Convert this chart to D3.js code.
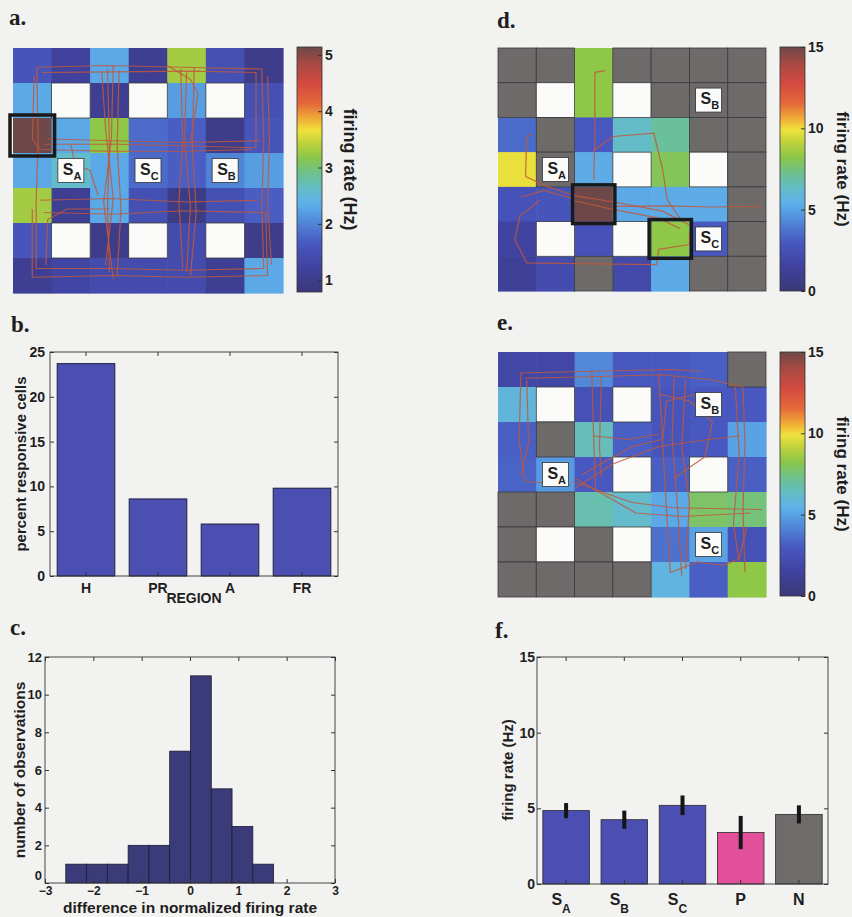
<!DOCTYPE html>
<html>
<head>
<meta charset="utf-8">
<script src="https://cdn.jsdelivr.net/npm/d3@7"></script>
<style>
body { margin: 0; background: #f2f2f0; }
svg { display: block; }
text { font-family: "Liberation Sans", Arial, sans-serif; font-weight: bold; fill: #1e1e1e; }
.letter { font-family: "Liberation Serif", "Times New Roman", serif; font-size: 23px; }
.axis text { font-size: 13px; }
.axis line, .axis path { stroke: #333; }
</style>
</head>
<body>
<div id="top"></div>
<script>
// panel b
var regions = ['H', 'PR', 'A', 'FR'];
var percentResponsive = [23.7, 8.6, 5.8, 9.8];

// panel c
var histEdges = [-2.57, -2.14, -1.71, -1.28, -0.85, -0.42, 0.01, 0.44, 0.87, 1.30, 1.73];
var histCounts = [1, 1, 1, 2, 2, 7, 11, 5, 3, 1];

// panel f
var fieldNames = ['S', 'S', 'S', 'P', 'N'];
var fieldSubs = ['A', 'B', 'C', '', ''];
var fieldRates = [4.85, 4.25, 5.2, 3.4, 4.6];
var fieldErrs = [0.5, 0.6, 0.65, 1.1, 0.6];
var fieldColors = ['#4b4fb2', '#4b4fb2', '#4b4fb2', '#e2509c', '#6f6b6b'];

// rate maps, 'W' = wall, 'G' = not visited
var rateA = [
  [1.6, 1.2, 2.3, 1.1, 3.3, 1.5, 1.0],
  [2.3, 'W', 1.1, 'W', 2.2, 'W', 1.5],
  [5.14, 2.3, 3.2, 1.8, 1.7, 1.0, 1.6],
  [2.3, 2.6, 2.3, 1.8, 1.7, 2.0, 2.2],
  [3.3, 1.1, 2.3, 1.5, 0.95, 1.5, 1.7],
  [1.6, 'W', 1.0, 'W', 1.4, 'W', 1.0],
  [1.1, 1.3, 1.4, 1.4, 1.4, 1.1, 2.3]
];
var rateD = [
  ['G', 'G', 8.3, 'G', 'G', 'G', 'G'],
  ['G', 'W', 8.3, 'W', 'G', 'G', 'G'],
  [3.5, 'G', 3.0, 6.3, 7.0, 'G', 'G'],
  [9.8, 'G', 5.3, 'W', 8.0, 'W', 'G'],
  [2.6, 2.8, 15, 5.2, 5.3, 5.3, 'G'],
  [1.6, 'W', 2.6, 'W', 8.3, 3.0, 'G'],
  [1.3, 2.2, 'G', 2.0, 5.2, 'G', 'G']
];
var rateE = [
  [1.8, 1.8, 4.3, 3.0, 3.0, 3.2, 'G'],
  [5.8, 'W', 2.5, 'W', 2.8, 3.0, 3.0],
  [3.2, 'G', 6.5, 3.2, 2.8, 3.0, 5.0],
  [3.3, 4.8, 3.0, 'W', 3.2, 'W', 3.2],
  ['G', 'G', 6.7, 6.2, 5.2, 7.8, 7.5],
  ['G', 'W', 'G', 'W', 3.7, 5.0, 2.6],
  ['G', 'G', 'G', 'G', 5.7, 3.2, 8.3]
];

// [name, row, col]
var labelsA = [['A', 3, 1], ['C', 3, 3], ['B', 3, 5]];
var labelsD = [['B', 1, 5], ['A', 3, 1], ['C', 5, 5]];
var labelsE = [['B', 1, 5], ['A', 3, 1], ['C', 5, 5]];

// [row, col]
var marksA = [[2, 0]];
var marksD = [[4, 2], [5, 4]];

// paths of the rat, in maze cell units [col, row]
var pathsA = [
  [[0.62, 0.55], [2.4, 0.5], [4.4, 0.55], [6.45, 0.6], [6.5, 2.7], [6.45, 4.5], [6.5, 6.3], [4.5, 6.35], [2.5, 6.3], [0.6, 6.3], [0.6, 4.4], [0.65, 2.7], [0.62, 0.55]],
  [[0.75, 0.7], [2.6, 0.68], [4.6, 0.66], [6.3, 0.7], [6.3, 2.85], [4.6, 2.8], [2.7, 2.75], [0.8, 2.75]],
  [[2.45, 0.6], [2.5, 2.7], [2.45, 4.5], [2.5, 6.4]],
  [[2.75, 0.65], [2.7, 2.8], [2.8, 4.6], [2.7, 6.5]],
  [[2.3, 0.7], [2.4, 2.3], [2.6, 4.3], [2.4, 6.2]],
  [[2.6, 0.5], [2.55, 2.6], [2.35, 4.4], [2.6, 6.6]],
  [[4.35, 0.6], [4.4, 2.7], [4.3, 4.4], [4.4, 6.3]],
  [[4.7, 0.55], [4.65, 2.85], [4.75, 4.7], [4.6, 6.5]],
  [[4.5, 0.7], [4.45, 2.6], [4.6, 4.55], [4.5, 6.4]],
  [[0.7, 4.35], [2.5, 4.3], [4.5, 4.4], [6.35, 4.35]],
  [[0.8, 4.7], [2.6, 4.75], [4.4, 4.65], [6.55, 4.7], [6.6, 6.5], [4.5, 6.55], [2.6, 6.5], [0.5, 6.55], [0.5, 4.6]],
  [[0.55, 0.8], [0.5, 2.6], [0.7, 2.9], [2.5, 2.95], [4.5, 2.95], [6.2, 2.9]],
  [[0.9, 2.6], [2.6, 2.65], [4.4, 2.7], [6.4, 2.65]],
  [[4.0, 0.5], [4.6, 0.9], [4.8, 1.3], [4.6, 2.7]],
  [[1.5, 2.75], [1.6, 3.3], [2.0, 3.5], [2.2, 4.2]],
  [[0.85, 6.2], [0.9, 4.9], [1.4, 4.6], [2.5, 4.6]],
  [[6.6, 0.8], [6.65, 2.6], [6.6, 4.4], [6.7, 6.2]]
];
var pathsD = [
  [[2.8, 0.65], [2.53, 0.7], [2.53, 2.5], [2.5, 3.8]],
  [[0.9, 2.5], [0.75, 2.55], [0.72, 3.7], [1.3, 4.0], [2.0, 4.25], [3.1, 4.45], [4.3, 4.7], [5.0, 5.1]],
  [[2.5, 2.95], [3.0, 2.55], [4.07, 2.45], [4.3, 3.5], [4.42, 4.37], [4.77, 4.94]],
  [[3.05, 4.56], [4.5, 4.55], [5.5, 4.58], [6.9, 4.56]],
  [[1.1, 4.37], [0.57, 4.85], [0.44, 5.52], [0.75, 6.19], [2.5, 6.22], [4.14, 6.24], [4.2, 5.8], [5.0, 5.66], [5.0, 5.33]],
  [[2.0, 4.4], [3.0, 4.65], [4.2, 4.9], [4.75, 5.2]],
  [[0.6, 4.3], [1.2, 4.1], [2.0, 4.35]]
];
var pathsE = [
  [[0.55, 0.6], [2.5, 0.55], [4.5, 0.5], [5.3, 0.55]],
  [[0.7, 0.75], [2.6, 0.7], [4.3, 0.65], [5.6, 0.8], [6.4, 1.0], [6.45, 2.6], [6.4, 4.5], [6.45, 6.3]],
  [[0.6, 0.6], [0.55, 2.5], [0.7, 3.7], [1.9, 3.8]],
  [[0.75, 0.8], [0.8, 2.6], [0.6, 3.5]],
  [[2.45, 0.55], [2.5, 2.5], [2.55, 4.0]],
  [[2.7, 0.7], [2.65, 2.7], [2.7, 3.6]],
  [[4.2, 0.6], [4.3, 2.6], [4.4, 4.5], [4.5, 6.3]],
  [[4.6, 0.7], [4.55, 2.5], [4.7, 4.6], [4.8, 6.4]],
  [[4.9, 0.8], [4.8, 2.7], [5.0, 4.3], [4.9, 6.2]],
  [[1.95, 3.7], [3.5, 4.3], [4.6, 4.45], [6.9, 4.5]],
  [[2.0, 3.6], [3.6, 4.6], [4.8, 4.7], [6.6, 4.6]],
  [[2.0, 3.9], [3.0, 3.2], [4.2, 2.7], [5.5, 2.5], [6.3, 2.4]],
  [[2.2, 3.5], [3.5, 2.7], [4.3, 2.5], [4.4, 1.4], [5.2, 1.2]],
  [[4.2, 1.2], [5.0, 1.4], [5.6, 2.0], [5.4, 3.0], [4.6, 3.6]],
  [[4.5, 6.3], [5.2, 6.0], [5.9, 6.1], [6.3, 5.9], [6.5, 5.0]],
  [[6.2, 1.0], [6.3, 2.9], [6.15, 4.9], [6.3, 6.0]],
  [[2.5, 2.4], [3.4, 2.5], [4.2, 2.35]]
];

// printed jet colormap
var cmapPos = [0, 0.1, 0.2, 0.3, 0.36, 0.42, 0.48, 0.55, 0.61, 0.66, 0.71, 0.77, 0.85, 0.93, 1];
var cmapColors = ['#3a3878', '#40429e', '#4858c0', '#5290dc', '#5eb0ea', '#64bcc8', '#6cc090', '#8cc648',
  '#c0d23c', '#f0e23c', '#f0a836', '#e4683a', '#d44a40', '#a84a42', '#6e4848'];

var intFmt = d3.format('d');

var svg = d3.select('#top').append('svg').attr('width', 852).attr('height', 917);
var defs = svg.append('defs');

var grad = defs.append('linearGradient').attr('id', 'jet')
  .attr('x1', 0).attr('y1', 1).attr('x2', 0).attr('y2', 0);
cmapPos.forEach(function(p, i) {
  grad.append('stop').attr('offset', p).attr('stop-color', cmapColors[i]);
});

function colorScale(lo, hi) {
  return d3.scaleLinear()
    .domain(cmapPos.map(function(t) { return lo + t * (hi - lo); }))
    .range(cmapColors)
    .clamp(true);
}

function letter(t, x, y) {
  svg.append('text').attr('class', 'letter').attr('x', x).attr('y', y).text(t);
}

function drawMap(o) {
  var g = svg.append('g');
  var x = d3.scaleBand().domain(d3.range(7)).range(o.xr);
  var y = d3.scaleBand().domain(d3.range(7)).range(o.yr);
  var gx = d3.scaleLinear().domain([0, 7]).range(o.xr);
  var gy = d3.scaleLinear().domain([0, 7]).range(o.yr);
  var color = colorScale(o.lo, o.hi);

  var cells = [];
  o.rates.forEach(function(row, r) {
    row.forEach(function(v, c) { cells.push({ r: r, c: c, v: v }); });
  });
  var colored = cells.filter(function(d) { return typeof d.v === 'number'; });
  var other = cells.filter(function(d) { return typeof d.v !== 'number'; });

  g.selectAll('rect.hot').data(colored).enter().append('rect')
    .attr('x', function(d) { return x(d.c); })
    .attr('y', function(d) { return y(d.r); })
    .attr('width', x.bandwidth() + 0.6)
    .attr('height', y.bandwidth() + 0.6)
    .attr('fill', function(d) { return color(d.v); });

  g.selectAll('rect.off').data(other).enter().append('rect')
    .attr('x', function(d) { return x(d.c); })
    .attr('y', function(d) { return y(d.r); })
    .attr('width', x.bandwidth())
    .attr('height', y.bandwidth())
    .attr('fill', function(d) { return d.v === 'W' ? '#fbfbfa' : '#6d6a69'; })
    .attr('stroke', '#3a3a3a')
    .attr('stroke-width', 0.8);

  defs.append('clipPath').attr('id', o.id).append('rect')
    .attr('x', o.xr[0]).attr('y', o.yr[0])
    .attr('width', o.xr[1] - o.xr[0]).attr('height', o.yr[1] - o.yr[0]);

  var line = d3.line().x(function(d) { return gx(d[0]); }).y(function(d) { return gy(d[1]); });
  g.append('g').attr('clip-path', 'url(#' + o.id + ')')
    .selectAll('path').data(o.paths).enter().append('path')
    .attr('d', line)
    .attr('fill', 'none')
    .attr('stroke', '#c0583c')
    .attr('stroke-width', 1.2)
    .attr('stroke-opacity', 0.85)
    .attr('stroke-linejoin', 'round');

  g.selectAll('rect.mark').data(o.marks).enter().append('rect')
    .attr('x', function(d) { return x(d[1]) - o.pad; })
    .attr('y', function(d) { return y(d[0]) - o.pad; })
    .attr('width', x.bandwidth() + 2 * o.pad)
    .attr('height', y.bandwidth() + 2 * o.pad)
    .attr('fill', 'none')
    .attr('stroke', '#1a1a1a')
    .attr('stroke-width', 3.5);

  var lab = g.selectAll('g.lab').data(o.labels).enter().append('g')
    .attr('transform', function(d) {
      return 'translate(' + (x(d[2]) + x.bandwidth() / 2) + ',' + (y(d[1]) + y.bandwidth() / 2) + ')';
    });
  lab.append('rect').attr('x', -13).attr('y', -12).attr('width', 26).attr('height', 24)
    .attr('fill', '#fbfbfa').attr('stroke', '#333').attr('stroke-width', 0.8);
  var t = lab.append('text').attr('x', -8).attr('y', 4).style('font-size', '16px');
  t.append('tspan').text('S');
  t.append('tspan').attr('dy', 5).style('font-size', '11px').text(function(d) { return d[0]; });
}

function drawBar(o) {
  var s = d3.scaleLinear().domain([o.lo, o.hi]).range([o.yr[1], o.yr[0]]);
  svg.append('rect').attr('x', o.xr[0]).attr('y', o.yr[0])
    .attr('width', o.xr[1] - o.xr[0]).attr('height', o.yr[1] - o.yr[0])
    .attr('fill', 'url(#jet)').attr('stroke', '#333').attr('stroke-width', 0.8);
  var ax = svg.append('g').attr('class', 'axis')
    .attr('transform', 'translate(' + o.xr[1] + ',0)')
    .call(d3.axisRight(s).tickValues(o.ticks).tickFormat(intFmt).tickSize(-4).tickPadding(3));
  ax.select('.domain').remove();
  ax.selectAll('text').style('font-size', '14px');
  svg.append('text')
    .attr('transform', 'translate(' + o.labelX + ',' + ((o.yr[0] + o.yr[1]) / 2) + ') rotate(90)')
    .attr('text-anchor', 'middle').attr('dy', '0.35em')
    .style('font-size', o.labelSize + 'px')
    .text('firing rate (Hz)');
}

function frame(xr, yr) {
  svg.append('rect').attr('x', xr[0]).attr('y', yr[0])
    .attr('width', xr[1] - xr[0]).attr('height', yr[1] - yr[0])
    .attr('fill', 'none').attr('stroke', '#333').attr('stroke-width', 0.9);
}

function yLabel(t, x, y, size) {
  svg.append('text').attr('transform', 'translate(' + x + ',' + y + ') rotate(-90)')
    .attr('text-anchor', 'middle').attr('dy', '0.35em')
    .style('font-size', size + 'px').text(t);
}

function mirrorTicks(xAxis, yAxis, xr, yr) {
  svg.append('g').attr('transform', 'translate(0,' + yr[0] + ')')
    .call(xAxis.tickSize(4).tickFormat('')).select('.domain').remove();
  svg.append('g').attr('transform', 'translate(' + xr[1] + ',0)')
    .call(yAxis.tickSize(4).tickFormat('')).select('.domain').remove();
  svg.selectAll('g line').attr('stroke', '#333');
}

// ---------- a ----------
letter('a.', 9, 25);
drawMap({ id: 'clipA', rates: rateA, lo: 0.79, hi: 5.14, xr: [13, 283], yr: [48, 293],
  paths: pathsA, labels: labelsA, marks: marksA, pad: 3 });
drawBar({ xr: [297, 322], yr: [47, 292], lo: 0.79, hi: 5.14, ticks: [1, 2, 3, 4, 5], labelX: 350, labelSize: 18 });

// ---------- d ----------
letter('d.', 497, 28);
drawMap({ id: 'clipD', rates: rateD, lo: 0, hi: 15, xr: [498, 766], yr: [48, 291],
  paths: pathsD, labels: labelsD, marks: marksD, pad: 2 });
drawBar({ xr: [780, 805], yr: [47, 291], lo: 0, hi: 15, ticks: [0, 5, 10, 15], labelX: 843, labelSize: 17 });

// ---------- e ----------
letter('e.', 497, 330);
drawMap({ id: 'clipE', rates: rateE, lo: 0, hi: 15, xr: [498, 766], yr: [352, 597],
  paths: pathsE, labels: labelsE, marks: [], pad: 2 });
drawBar({ xr: [780, 805], yr: [352, 596], lo: 0, hi: 15, ticks: [0, 5, 10, 15], labelX: 843, labelSize: 17 });

// ---------- b ----------
(function() {
  letter('b.', 11, 332);
  var xr = [50, 338], yr = [352, 576];
  var x = d3.scaleBand().domain(regions).range(xr).paddingInner(0.2).paddingOuter(0.1);
  var y = d3.scaleLinear().domain([0, 25]).range([yr[1], yr[0]]);
  svg.selectAll('rect.regbar').data(regions).enter().append('rect')
    .attr('x', function(d) { return x(d); })
    .attr('y', function(d, i) { return y(percentResponsive[i]); })
    .attr('width', x.bandwidth())
    .attr('height', function(d, i) { return yr[1] - y(percentResponsive[i]); })
    .attr('fill', '#4b4fb2').attr('stroke', '#1e1e3c').attr('stroke-width', 1);
  frame(xr, yr);
  var ya = svg.append('g').attr('class', 'axis').attr('transform', 'translate(' + xr[0] + ',0)')
    .call(d3.axisLeft(y).tickValues([0, 5, 10, 15, 20, 25]).tickFormat(intFmt).tickSize(-4).tickPadding(5));
  ya.select('.domain').remove();
  ya.selectAll('text').style('font-size', '14px');
  var xa = svg.append('g').attr('class', 'axis').attr('transform', 'translate(0,' + yr[1] + ')')
    .call(d3.axisBottom(x).tickSize(-4).tickPadding(7));
  xa.select('.domain').remove();
  xa.selectAll('text').style('font-size', '14px');
  mirrorTicks(d3.axisBottom(x), d3.axisLeft(y).tickValues([0, 5, 10, 15, 20, 25]), xr, yr);
  yLabel('percent responsive cells', 21, 464, 15);
  svg.append('text').attr('x', 194).attr('y', 603).attr('text-anchor', 'middle')
    .style('font-size', '14px').text('REGION');
})();

// ---------- c ----------
(function() {
  letter('c.', 10, 635);
  var xr = [45, 335], yr = [657, 883];
  var x = d3.scaleLinear().domain([-3, 3]).range(xr);
  var y = d3.scaleLinear().domain([0, 12]).range([yr[1], yr[0]]);
  svg.selectAll('rect.hist').data(histCounts).enter().append('rect')
    .attr('x', function(d, i) { return x(histEdges[i]); })
    .attr('y', function(d) { return y(d); })
    .attr('width', function(d, i) { return x(histEdges[i + 1]) - x(histEdges[i]); })
    .attr('height', function(d) { return yr[1] - y(d); })
    .attr('fill', '#3b3b7a').attr('stroke', '#1c1c30').attr('stroke-width', 0.8);
  frame(xr, yr);
  var ya = svg.append('g').attr('class', 'axis').attr('transform', 'translate(' + xr[0] + ',0)')
    .call(d3.axisLeft(y).tickValues(d3.range(0, 13, 2)).tickFormat(intFmt).tickSize(-4).tickPadding(3));
  ya.select('.domain').remove();
  ya.selectAll('text').filter(function(d) { return d === 0; }).attr('dy', '-0.3em');
  var xa = svg.append('g').attr('class', 'axis').attr('transform', 'translate(0,' + yr[1] + ')')
    .call(d3.axisBottom(x).tickValues(d3.range(-3, 4)).tickFormat(intFmt).tickSize(-4).tickPadding(3));
  xa.select('.domain').remove();
  xa.selectAll('text').style('font-size', '12px');
  mirrorTicks(d3.axisBottom(x).tickValues(d3.range(-3, 4)), d3.axisLeft(y).tickValues(d3.range(0, 13, 2)), xr, yr);
  yLabel('number of observations', 20, 770, 15.5);
  svg.append('text').attr('x', 190).attr('y', 913).attr('text-anchor', 'middle')
    .style('font-size', '15.5px').text('difference in normalized firing rate');
})();

// ---------- f ----------
(function() {
  letter('f.', 495, 638);
  var xr = [537, 828], yr = [657, 884];
  var idx = d3.range(fieldRates.length);
  var x = d3.scaleBand().domain(idx).range(xr).paddingInner(0.2).paddingOuter(0.1);
  var y = d3.scaleLinear().domain([0, 15]).range([yr[1], yr[0]]);
  svg.selectAll('rect.field').data(idx).enter().append('rect')
    .attr('x', function(i) { return x(i); })
    .attr('y', function(i) { return y(fieldRates[i]); })
    .attr('width', x.bandwidth())
    .attr('height', function(i) { return yr[1] - y(fieldRates[i]); })
    .attr('fill', function(i) { return fieldColors[i]; })
    .attr('stroke', '#2a2a2a').attr('stroke-width', 0.8);
  svg.selectAll('line.err').data(idx).enter().append('line')
    .attr('x1', function(i) { return x(i) + x.bandwidth() / 2; })
    .attr('x2', function(i) { return x(i) + x.bandwidth() / 2; })
    .attr('y1', function(i) { return y(fieldRates[i] - fieldErrs[i]); })
    .attr('y2', function(i) { return y(fieldRates[i] + fieldErrs[i]); })
    .attr('stroke', '#151515').attr('stroke-width', 4);
  frame(xr, yr);
  var ya = svg.append('g').attr('class', 'axis').attr('transform', 'translate(' + xr[0] + ',0)')
    .call(d3.axisLeft(y).tickValues([0, 5, 10, 15]).tickFormat(intFmt).tickSize(-4).tickPadding(2));
  ya.select('.domain').remove();
  ya.selectAll('text').style('font-size', '14px');
  var xa = svg.append('g').attr('transform', 'translate(0,' + yr[1] + ')')
    .call(d3.axisBottom(x).tickSize(-4).tickFormat(''));
  xa.select('.domain').remove();
  mirrorTicks(d3.axisBottom(x), d3.axisLeft(y).tickValues([0, 5, 10, 15]), xr, yr);
  var t = svg.selectAll('text.fname').data(idx).enter().append('text')
    .attr('x', function(i) { return x(i) + x.bandwidth() / 2 - (fieldSubs[i] ? 5 : 0); })
    .attr('y', 905).attr('text-anchor', 'middle').style('font-size', '16px');
  t.append('tspan').text(function(i) { return fieldNames[i]; });
  t.append('tspan').attr('dy', 8).style('font-size', '12px').text(function(i) { return fieldSubs[i]; });
  yLabel('firing rate (Hz)', 508, 770, 15);
})();
</script>
</body>
</html>
